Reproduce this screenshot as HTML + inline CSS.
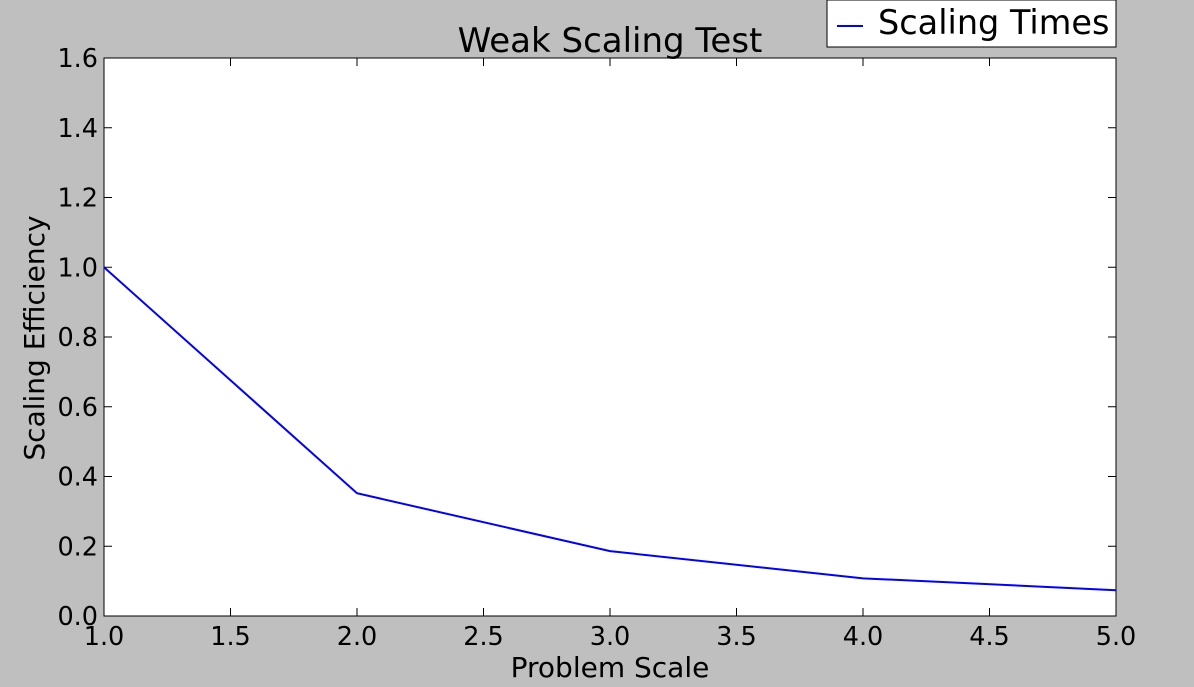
<!DOCTYPE html>
<html><head><meta charset="utf-8"><style>
body{margin:0;background:#bfbfbf;}
svg{display:block;font-family:"DejaVu Sans",sans-serif;}
</style></head><body>
<svg id="chart" width="1194" height="687">
<rect x="0" y="0" width="1194" height="687" fill="#bfbfbf"/>
<rect x="104" y="58" width="1012" height="558" fill="#fff" stroke="#000" stroke-width="1"/>
<g id="ticks"></g>
<polyline id="line" fill="none" stroke="#0000ff" stroke-width="2"/>
<text x="610" y="52" font-size="34" text-anchor="middle">Weak Scaling Test</text>
<text x="610" y="677" font-size="28" text-anchor="middle">Problem Scale</text>
<text transform="translate(44,338) rotate(-90)" font-size="28" text-anchor="middle">Scaling Efficiency</text>
<g>
<rect x="827" y="0" width="289" height="47" fill="#fff" stroke="#000"/>
<line x1="837" y1="26" x2="863" y2="26" stroke="#0000ff" stroke-width="2"/>
<text x="878" y="34" font-size="33.5">Scaling Times</text>
</g>
</svg>
<script>
const xValues=[1,2,3,4,5];
const yValues=[1.0,0.352,0.186,0.108,0.074];
const xTicks=["1.0","1.5","2.0","2.5","3.0","3.5","4.0","4.5","5.0"];
const yTicks=["0.0","0.2","0.4","0.6","0.8","1.0","1.2","1.4","1.6"];
const L=104,R=1116,T=58,B=616;
const xs=v=>L+(v-1)/4*(R-L);
const ys=v=>B-v/1.6*(B-T);
const NS="http://www.w3.org/2000/svg";
const g=document.getElementById('ticks');
function mk(tag,attrs){const e=document.createElementNS(NS,tag);for(const k in attrs)e.setAttribute(k,attrs[k]);g.appendChild(e);return e;}
xTicks.forEach(t=>{const x=xs(parseFloat(t));
const a=mk('line',{x1:x,y1:B,x2:x,y2:B-8,stroke:'#000'});


const b=mk('line',{x1:x,y1:T,x2:x,y2:T+8,stroke:'#000'});


const tx=mk('text',{x:x,y:645,'font-size':25.5,'text-anchor':'middle'});tx.textContent=t;


});
yTicks.forEach(t=>{const y=ys(parseFloat(t));
const a=mk('line',{x1:L,y1:y,x2:L+8,y2:y,stroke:'#000'});


const b=mk('line',{x1:R,y1:y,x2:R-8,y2:y,stroke:'#000'});


const tx=mk('text',{x:98,y:y+9,'font-size':25.5,'text-anchor':'end'});tx.textContent=t;


});
document.getElementById('line').setAttribute('points',xValues.map((v,i)=>xs(v)+','+ys(yValues[i])).join(' '));
</script>
</body></html>
